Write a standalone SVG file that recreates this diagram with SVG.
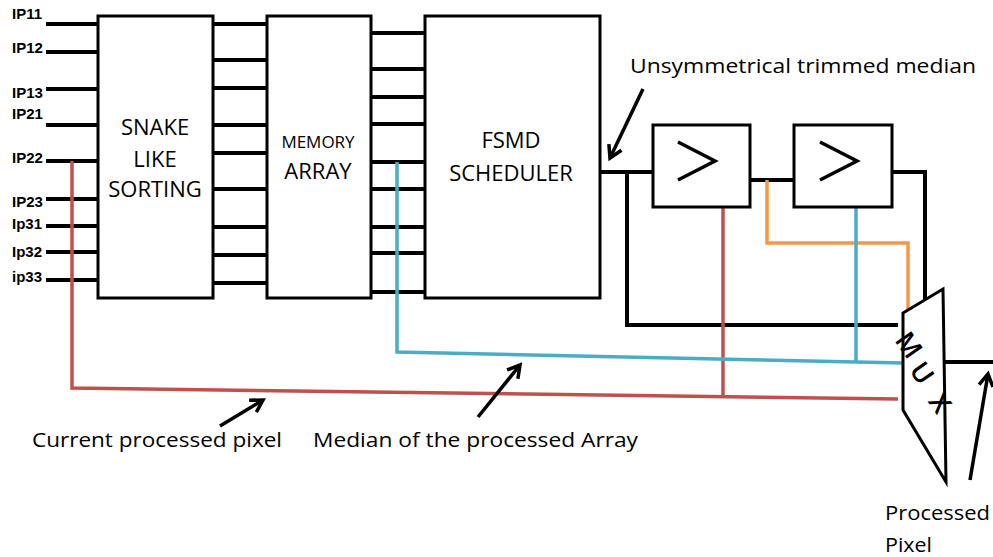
<svg xmlns="http://www.w3.org/2000/svg" width="993" height="557" viewBox="0 0 993 557">
<style>
.box{fill:#fff;stroke:#000;stroke-width:3}
.w{fill:none;stroke:#000;stroke-width:4;stroke-linejoin:miter}
.red{fill:none;stroke:#C0504D;stroke-width:3.5}
.blue{fill:none;stroke:#4BACC6;stroke-width:3.5}
.org{fill:none;stroke:#F79646;stroke-width:3.5}
.ann{fill:none;stroke:#000;stroke-width:3.5}
.lbl{font-family:"Liberation Sans",Arial,sans-serif;font-weight:bold;font-size:15px;fill:#000}
.t{font-family:"Open Sans","Noto Sans",sans-serif;fill:#000}
.mx{font-family:"Open Sans","Noto Sans",sans-serif;font-size:27px;font-weight:600;fill:#000}
</style>
<defs>
<marker id="ah" markerUnits="userSpaceOnUse" markerWidth="20" markerHeight="20" refX="14" refY="10" orient="auto">
<path d="M2,3 L14,10 L2,17" fill="none" stroke="#000" stroke-width="3.5"/>
</marker>
</defs>
<g id="connectors">
<g id="inputs">
<line class="w" x1="46" y1="24" x2="98" y2="24"/>
<line class="w" x1="46" y1="52" x2="98" y2="52"/>
<line class="w" x1="46" y1="89" x2="98" y2="89"/>
<line class="w" x1="46" y1="125" x2="98" y2="125"/>
<line class="w" x1="46" y1="161" x2="98" y2="161"/>
<line class="w" x1="46" y1="199" x2="98" y2="199"/>
<line class="w" x1="46" y1="226" x2="98" y2="226"/>
<line class="w" x1="46" y1="252" x2="98" y2="252"/>
<line class="w" x1="46" y1="280" x2="98" y2="280"/>
</g>
<g id="sort-to-mem">
<line class="w" x1="213" y1="24" x2="267" y2="24"/>
<line class="w" x1="213" y1="60" x2="267" y2="60"/>
<line class="w" x1="213" y1="88" x2="267" y2="88"/>
<line class="w" x1="213" y1="125" x2="267" y2="125"/>
<line class="w" x1="213" y1="153" x2="267" y2="153"/>
<line class="w" x1="213" y1="189" x2="267" y2="189"/>
<line class="w" x1="213" y1="227" x2="267" y2="227"/>
<line class="w" x1="213" y1="255" x2="267" y2="255"/>
<line class="w" x1="213" y1="283" x2="267" y2="283"/>
</g>
<g id="mem-to-fsmd">
<line class="w" x1="371" y1="33" x2="425" y2="33"/>
<line class="w" x1="371" y1="69" x2="425" y2="69"/>
<line class="w" x1="371" y1="97" x2="425" y2="97"/>
<line class="w" x1="371" y1="124" x2="425" y2="124"/>
<line class="w" x1="371" y1="162" x2="425" y2="162"/>
<line class="w" x1="371" y1="189" x2="425" y2="189"/>
<line class="w" x1="371" y1="227" x2="425" y2="227"/>
<line class="w" x1="371" y1="253" x2="425" y2="253"/>
<line class="w" x1="371" y1="292" x2="425" y2="292"/>
</g>
<polyline class="w" points="600,172 653,172"/>
<polyline class="w" points="627,172 627,325 898,325"/>
<polyline class="w" points="750,180 794,180"/>
<polyline class="w" points="892,172 925,172 925,300"/>
<polyline class="w" points="943,362 993,362"/>
<polyline class="org" points="767,180 767,243 908,243 908,310"/>
<polyline class="red" points="723,207 723,397"/>
<polyline class="blue" points="856,207 856,362"/>
<polyline class="blue" points="397,162 397,352 903,363"/>
<polyline class="red" points="72,161 72,388 898,399"/>
<line class="ann" x1="643" y1="89" x2="610" y2="158" marker-end="url(#ah)"/>
<line class="ann" x1="220" y1="426" x2="263" y2="400" marker-end="url(#ah)"/>
<line class="ann" x1="478" y1="417" x2="520" y2="365" marker-end="url(#ah)"/>
<line class="ann" x1="970" y1="480" x2="988" y2="374" marker-end="url(#ah)"/>
</g>
<g id="input-labels">
<text class="lbl" x="12" y="19">IP11</text>
<text class="lbl" x="12" y="53">IP12</text>
<text class="lbl" x="12" y="98">IP13</text>
<text class="lbl" x="12" y="119">IP21</text>
<text class="lbl" x="12" y="163">IP22</text>
<text class="lbl" x="12" y="207">IP23</text>
<text class="lbl" x="12" y="229">Ip31</text>
<text class="lbl" x="12" y="257">Ip32</text>
<text class="lbl" x="12" y="282">ip33</text>
</g>
<g id="snake">
<rect class="box" x="98" y="16" width="115" height="282"/>
<text class="t" font-size="22" text-anchor="middle" x="155" y="135">SNAKE</text>
<text class="t" font-size="22" text-anchor="middle" x="155" y="167">LIKE</text>
<text class="t" font-size="22" text-anchor="middle" x="155" y="197">SORTING</text>
</g>
<g id="memory">
<rect class="box" x="267" y="16" width="104" height="282"/>
<text class="t" font-size="17" text-anchor="middle" x="318" y="148">MEMORY</text>
<text class="t" font-size="22" text-anchor="middle" x="318" y="179">ARRAY</text>
</g>
<g id="fsmd">
<rect class="box" x="425" y="16" width="175" height="282"/>
<text class="t" font-size="22" text-anchor="middle" x="511" y="148">FSMD</text>
<text class="t" font-size="22" text-anchor="middle" x="511" y="181">SCHEDULER</text>
</g>
<g id="comp1">
<rect class="box" x="653" y="125" width="97" height="82"/>
<polyline class="ann" points="678,142 715,161 678,180"/>
</g>
<g id="comp2">
<rect class="box" x="794" y="125" width="98" height="82"/>
<polyline class="ann" points="820,142 857,161 820,180"/>
</g>
<g id="mux">
<polygon class="box" points="903,313 943,289 946,482 903,410"/>
<text class="mx" text-anchor="middle" transform="translate(909,345) rotate(55)" y="9.5">M</text>
<text class="mx" text-anchor="middle" transform="translate(922,373) rotate(55)" y="9.5">U</text>
<text class="mx" text-anchor="middle" transform="translate(940,403) rotate(55)" y="9.5">X</text>
</g>
<g id="annotations">
<text class="t" font-size="20" x="630" y="73" textLength="346" lengthAdjust="spacingAndGlyphs">Unsymmetrical trimmed median</text>
<text class="t" font-size="20" x="32" y="447" textLength="250" lengthAdjust="spacingAndGlyphs">Current processed pixel</text>
<text class="t" font-size="20" x="313" y="447" textLength="325" lengthAdjust="spacingAndGlyphs">Median of the processed Array</text>
<text class="t" font-size="20" x="885" y="520" textLength="105" lengthAdjust="spacingAndGlyphs">Processed</text>
<text class="t" font-size="20" x="885" y="552" textLength="47" lengthAdjust="spacingAndGlyphs">Pixel</text>
</g>
</svg>
